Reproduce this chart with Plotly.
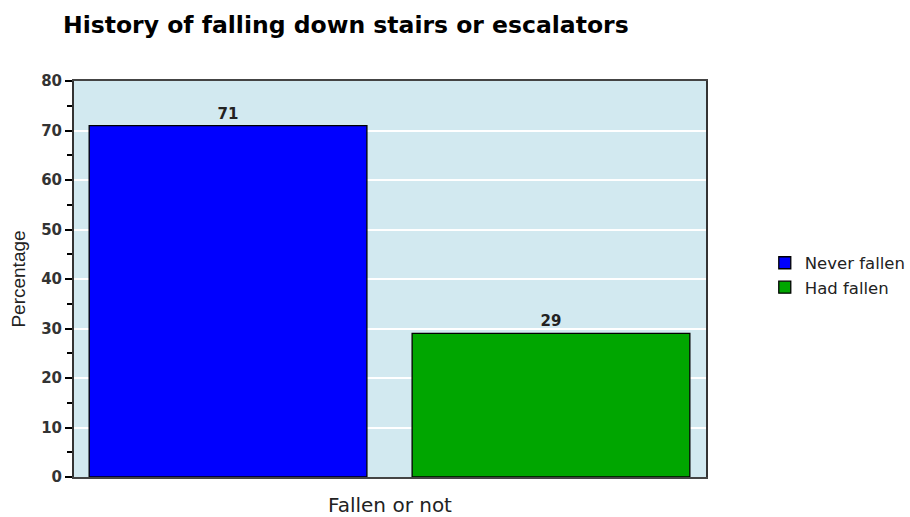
import plotly.graph_objects as go

categories = ["Never fallen", "Had fallen"]
percentages = [71, 29]
bar_colors = ["#0000FF", "#00A600"]

fig = go.Figure()
for i, (name, value, color) in enumerate(zip(categories, percentages, bar_colors)):
    fig.add_trace(
        go.Bar(
            x=[i],
            y=[value],
            name=name,
            width=0.86,
            marker=dict(color=color, line=dict(color="#000000", width=1.3)),
            text=[value],
            textposition="outside",
            textfont=dict(family="DejaVu Sans", size=15, color="#222222"),
            texttemplate="<b>%{text}</b>",
            cliponaxis=False,
        )
    )

fig.update_layout(
    width=910,
    height=517,
    title=dict(
        text="History of falling down stairs or escalators",
        x=63 / 910,
        xanchor="left",
        y=0.952,
        yanchor="middle",
        font=dict(family="DejaVu Sans", size=23.5, color="#000000", weight="bold"),
    ),
    font=dict(family="DejaVu Sans", color="#222222"),
    paper_bgcolor="#FFFFFF",
    plot_bgcolor="#D2E9F0",
    margin=dict(l=74, r=204, t=81, b=40, autoexpand=False),
    barmode="group",
    showlegend=True,
    legend=dict(
        x=1.093,
        y=0.51,
        xanchor="left",
        yanchor="middle",
        font=dict(family="DejaVu Sans", size=16.5, color="#222222"),
        tracegroupgap=0,
    ),
)

fig.update_xaxes(
    range=[-0.477, 1.48],
    showticklabels=False,
    ticks="",
    showgrid=False,
    zeroline=False,
    showline=True,
    linecolor="#444444",
    linewidth=2,
    mirror=True,
    title=dict(text="Fallen or not", font=dict(family="DejaVu Sans", size=20, color="#222222"), standoff=20),
)

fig.update_yaxes(
    range=[0, 80],
    dtick=10,
    tick0=0,
    ticks="outside",
    ticklen=7,
    tickwidth=1.5,
    tickcolor="#000000",
    tickfont=dict(size=15, color="#333333", family="DejaVu Sans"),
    tickprefix="<b>",
    ticksuffix="</b>",
    minor=dict(dtick=5, ticks="outside", ticklen=5, tickcolor="#000000", showgrid=False),
    showgrid=True,
    gridcolor="#FFFFFF",
    gridwidth=1.5,
    zeroline=False,
    showline=True,
    linecolor="#333333",
    linewidth=2,
    mirror=True,
    title=dict(text="Percentage", font=dict(family="Liberation Sans, Arial", size=19, color="#222222"), standoff=10),
)

fig.write_html(
    "out.html",
    config={"displayModeBar": False},
    post_script="document.body.style.margin = '0px';",
)
